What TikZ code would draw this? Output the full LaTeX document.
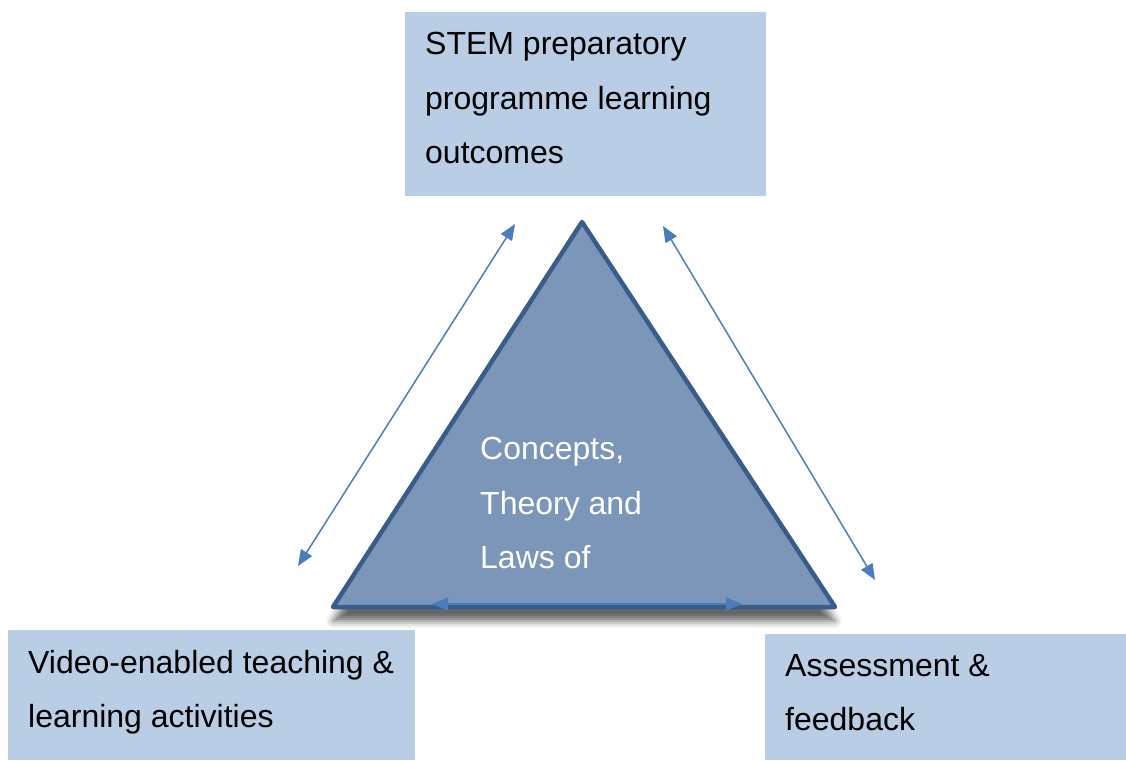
\documentclass[tikz,border=0pt]{standalone}
\usepackage{fontspec}
\setmainfont{Liberation Sans}
\usetikzlibrary{arrows.meta, shadows.blur}
\definecolor{boxblue}{HTML}{B9CDE5}
\definecolor{trifill}{HTML}{7B96B9}
\definecolor{triedge}{HTML}{385D8A}
\definecolor{arrowblue}{HTML}{4A7EBB}

\begin{document}
\begin{tikzpicture}[x=1pt,y=-1pt,
    box/.style={fill=boxblue,anchor=north west,inner xsep=20pt,inner ysep=20pt,font=\fontsize{32}{54.5}\selectfont},
    link/.style={arrowblue,line width=1.5pt,{Triangle[length=16pt,width=13pt]}-{Triangle[length=16pt,width=13pt]}}]
  \useasboundingbox (0,0) rectangle (1126,760);
  % the three corner boxes
  \node[box] (outcomes) at (405,12) {\parbox[t][144pt][t]{321pt}{\raggedright STEM preparatory\\programme learning\\outcomes}};
  \node[box] (activities) at (8,630) {\parbox[t][90pt][t]{367pt}{\raggedright Video-enabled teaching \&\\learning activities}};
  \node[box] (feedback) at (765,634) {\parbox[t][86pt][t]{321pt}{\raggedright Assessment \&\\feedback}};
  % the triangle
  \coordinate (apex) at (582,222);
  \coordinate (baseL) at (333,607);
  \coordinate (baseR) at (835,607);
  \draw[fill=trifill,draw=triedge,line width=4.5pt,line join=round,
    blur shadow={shadow xshift=0pt,shadow yshift=-14pt,shadow blur radius=7pt,shadow opacity=60}]
    (apex) -- (baseR) -- (baseL) -- cycle;
  \node[anchor=north west,text=white,align=left,inner sep=0pt,font=\fontsize{32}{54.5}\selectfont] (core) at (480,437) {Concepts,\\Theory and\\Laws of};
  % the arrows
  \coordinate (a1) at (298,566);
  \coordinate (a2) at (515,224);
  \coordinate (b1) at (663,226);
  \coordinate (b2) at (875,580);
  \coordinate (c1) at (432,604);
  \coordinate (c2) at (742,604);
  \draw[link] (a1) -- (a2);
  \draw[link] (b1) -- (b2);
  \draw[link] (c1) -- (c2);
\end{tikzpicture}
\end{document}
